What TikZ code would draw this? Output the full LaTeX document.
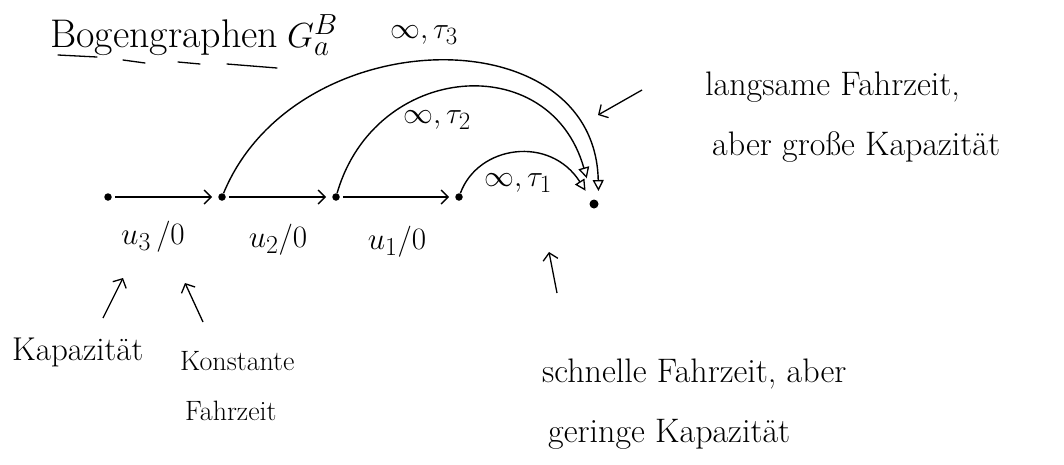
\documentclass[tikz,border=0pt]{standalone}
\usepackage{fontspec}
\usetikzlibrary{arrows.meta}
\newcommand{\mathbig}[2]{\scalebox{#1}{#2}}
\begin{document}
\begin{tikzpicture}[x=1pt,y=-1pt,
  dot/.style={circle,fill=black,inner sep=0pt,minimum size=7.5pt},
  bigdot/.style={circle,fill=black,inner sep=0pt,minimum size=9pt},
  flow/.style={line width=1.4pt,-{Straight Barb[length=7pt,width=14pt,line width=1.4pt]},shorten >=6pt,shorten <=3pt},
  bigarc/.style={line width=1.4pt,-{Triangle[open,length=11pt,width=11pt,line width=1.3pt]}},
  note/.style={line width=1.3pt,-{Straight Barb[length=7pt,width=15pt,line width=1.3pt]}},
  lbl/.style={font=\Huge,inner sep=0pt},
  txt/.style={font=\fontsize{34}{40}\selectfont,inner sep=0pt,anchor=base west},
  smalltxt/.style={font=\fontsize{28}{32}\selectfont,inner sep=0pt,anchor=base west},
  uline/.style={line width=1.3pt,line cap=round}]
\useasboundingbox (0,0) rectangle (1064,464);
% title
\node[font=\fontsize{40}{44}\selectfont,inner sep=0pt,anchor=base west] (title) at (50,47) {Bogengraphen};
\node[font=\Huge,inner sep=0pt,anchor=base west] (gab) at (287,47) {\mathbig{1.4}{$G_a^B$}};
\draw[uline] (58,55) -- (97,57);
\draw[uline] (123,60) -- (145,63);
\draw[uline] (178,62) -- (200,64);
\draw[uline] (227,64) -- (277,68);
% vertices
\node[dot] (n0) at (108,197) {};
\node[dot] (n1) at (222,197) {};
\node[dot] (n2) at (336,197) {};
\node[dot] (n3) at (459,197) {};
\node[bigdot] (t) at (594,204) {};
% straight arcs
\draw[flow] (n0) -- (n1);
\draw[flow] (n1) -- (n2);
\draw[flow] (n2) -- (n3);
\node[lbl] (u3) at (153,237) {\mathbig{1.25}{$u_3\,/0$}};
\node[lbl] (u2) at (278,240) {\mathbig{1.25}{$u_2/0$}};
\node[lbl] (u1) at (397,242) {\mathbig{1.25}{$u_1/0$}};
% bypass arcs
\draw[bigarc,shorten >=13pt] (n1) .. controls (295,20) and (595,15) .. (t.east);
\draw[bigarc,shorten >=22pt] (n2) .. controls (375,62) and (550,48) .. (t);
\draw[bigarc,shorten >=11pt] (n3) .. controls (478,145) and (550,135) .. (t);
\node[lbl] (l3) at (424,35) {\mathbig{1.2}{$\infty,\tau_3$}};
\node[lbl] (l2) at (437,120) {\mathbig{1.2}{$\infty,\tau_2$}};
\node[lbl] (l1) at (518,183) {\mathbig{1.2}{$\infty,\tau_1$}};
% annotations right
\node[txt] (slow1) at (705,95) {langsame Fahrzeit,};
\node[txt] (slow2) at (712,155) {aber große Kapazität};
\coordinate (sa) at (642,90);
\coordinate (sb) at (598,115);
\draw[note] (sa) -- (sb);
\node[txt] (fast1) at (542,382) {schnelle Fahrzeit, aber};
\node[txt] (fast2) at (548,442) {geringe Kapazität};
\coordinate (fa) at (557,293);
\coordinate (fb) at (549,252);
\draw[note] (fa) -- (fb);
% annotations left
\node[font=\fontsize{33}{36}\selectfont,inner sep=0pt,anchor=base west] (kap) at (12,360) {Kapazität};
\node[smalltxt] (kon1) at (180,370) {Konstante};
\node[smalltxt] (kon2) at (185,420) {Fahrzeit};
\coordinate (ka) at (103,318);
\coordinate (kb) at (123,278);
\draw[note] (ka) -- (kb);
\coordinate (ca) at (203,322);
\coordinate (cb) at (185,283);
\draw[note] (ca) -- (cb);
\end{tikzpicture}
\end{document}
